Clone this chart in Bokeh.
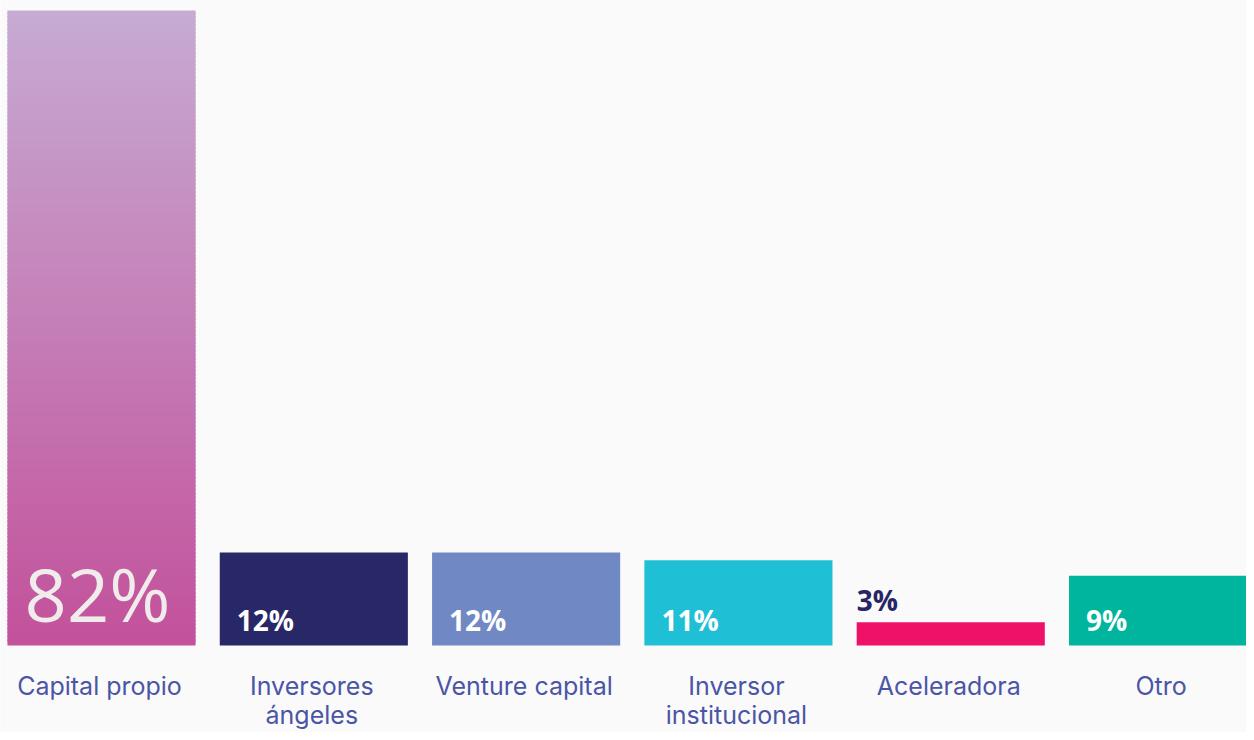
import numpy as np
from bokeh.plotting import figure
from bokeh.models import Range1d, ColumnDataSource
from bokeh.core.properties import value as pval
from bokeh.embed import file_html
from bokeh.resources import INLINE

# ---- data ----
categories = ["Capital propio", "Inversores\nángeles", "Venture capital",
              "Inversor\ninstitucional", "Aceleradora", "Otro"]
values = [82, 12, 12, 11, 3, 9]
labels = ["82%", "12%", "12%", "11%", "3%", "9%"]
colors = ["#c3519b", "#282868", "#7089c4", "#1fc0d6", "#ef1068", "#00b59d"]

# ---- style ----
BG = "#fafafa"
LABEL_COLOR = "#4b55a6"
BAR_W = 0.886
GRAD_TOP = np.array([0xc6, 0xab, 0xd3])
GRAD_BOT = np.array([0xc3, 0x51, 0x9b])

x = np.arange(len(categories)) + 0.5

p = figure(width=1246, height=732, output_backend="svg", toolbar_location=None,
           x_range=Range1d(0.0243, 5.893), y_range=Range1d(-11.23, 83.29),
           min_border_left=0, min_border_right=0, min_border_top=0,
           min_border_bottom=0)
p.background_fill_color = BG
p.border_fill_color = BG
p.outline_line_color = None
p.xgrid.visible = False
p.ygrid.visible = False
p.yaxis.visible = False
p.xaxis.visible = False

# bars (first bar uses a vertical gradient drawn as thin overlapping slices)
n = 160
edges = np.linspace(0, values[0], n + 1)
t = (edges[:-1] + edges[1:]) / 2 / values[0]
grad_cols = ["#%02x%02x%02x" % tuple(np.round(GRAD_BOT + (GRAD_TOP - GRAD_BOT) * ti).astype(int)) for ti in t]
tops = np.minimum(edges[1:] + 0.3, values[0])
p.quad(left=x[0] - BAR_W / 2, right=x[0] + BAR_W / 2, bottom=edges[:-1], top=tops,
       fill_color=grad_cols, line_color=None)

src = ColumnDataSource(dict(x=x[1:], top=values[1:], color=colors[1:]))
p.vbar(x="x", width=BAR_W, bottom=0, top="top", fill_color="color", line_color=None, source=src)

# value labels
p.text(x=[x[0]], y=[0], text=[labels[0]], text_align="center", text_baseline="alphabetic",
       x_offset=-4, y_offset=-52, text_font=pval("Open Sans"), text_font_size="74px",
       text_color="#f0eceb")

inside = [i for i in range(1, len(values)) if values[i] >= 5]
outside = [i for i in range(1, len(values)) if values[i] < 5]
p.text(x=[x[i] - BAR_W / 2 for i in inside], y=[0] * len(inside), text=[labels[i] for i in inside],
       text_align="left", text_baseline="alphabetic", x_offset=17, y_offset=-26,
       text_font=pval("Open Sans"), text_font_style="bold", text_font_size="28px", text_color="white")
p.text(x=[x[i] - BAR_W / 2 for i in outside], y=[values[i] for i in outside],
       text=[labels[i] for i in outside],
       text_align="left", text_baseline="alphabetic", x_offset=0, y_offset=-22,
       text_font=pval("Open Sans"), text_font_style="bold", text_font_size="28px", text_color="#272566")

# category labels below the baseline
p.text(x=list(x), y=[0] * len(x), text=categories, text_align="center", text_baseline="top",
       x_offset=-2, y_offset=25, text_font=pval("Inter"), text_font_size="25px",
       text_color=LABEL_COLOR, text_line_height=0.98)

open("out.html", "w").write(file_html(p, INLINE))
